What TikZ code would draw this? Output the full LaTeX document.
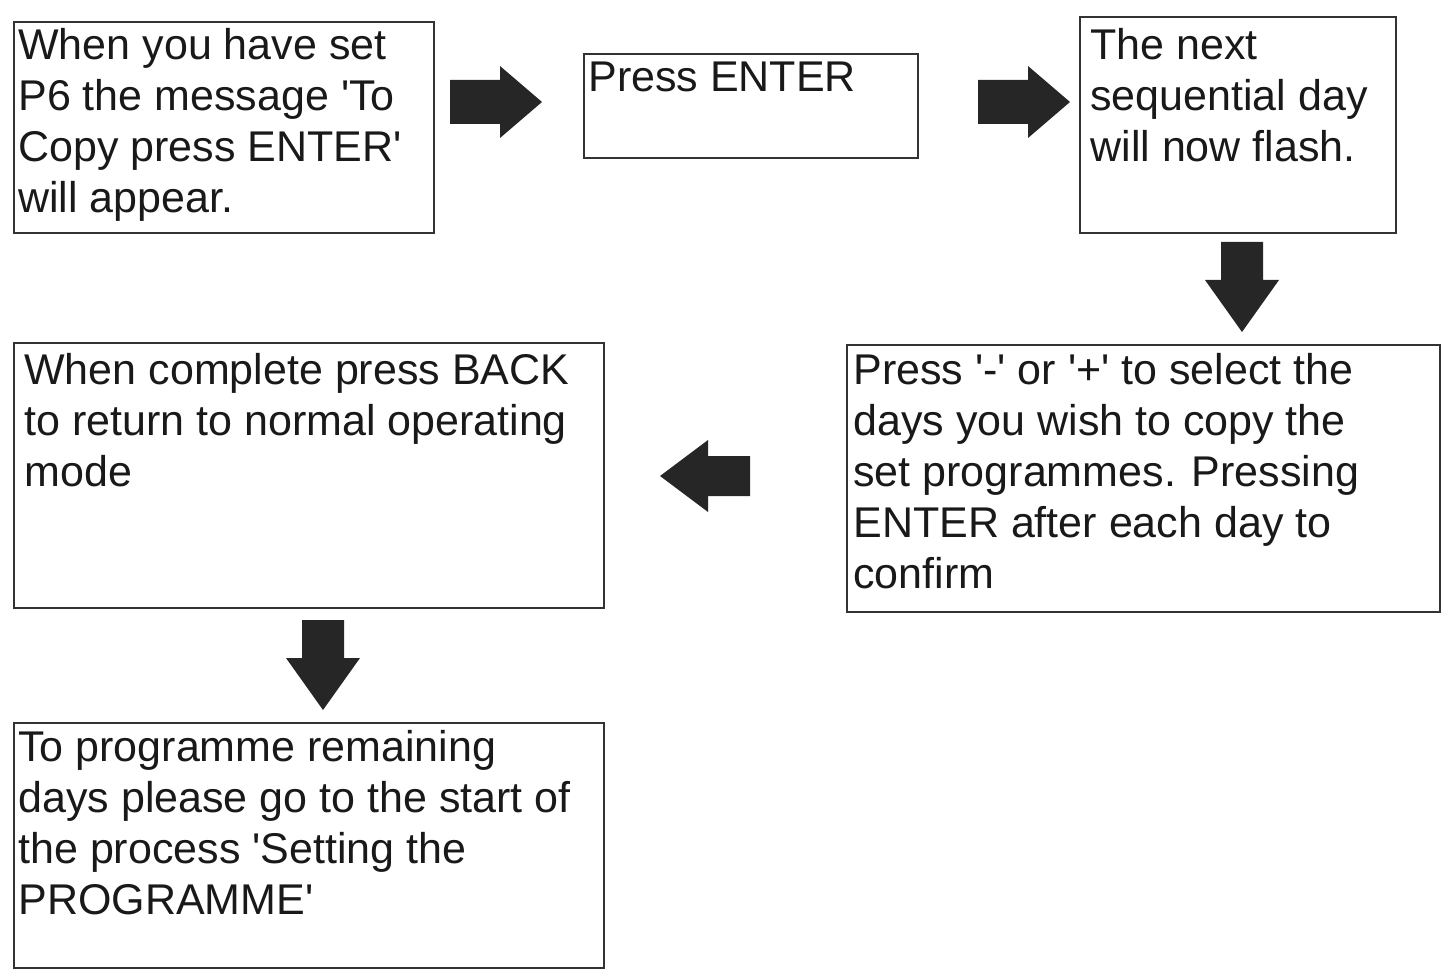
\documentclass[tikz,border=0pt]{standalone}
\usepackage{fontspec}
\setmainfont{Liberation Sans}
\newcommand{\q}{\textquotesingle}
\begin{document}
\begin{tikzpicture}[x=0.5pt,y=-0.5pt,
 box/.style={draw=black!80,line width=1.2pt},
 txt/.style={anchor=north west,inner sep=0pt,align=left,font=\fontsize{21.5}{25.5}\selectfont,text=black!90},
 arr/.style={fill=black!85,draw=none}]
\useasboundingbox (0,0) rectangle (1445,973);
\draw[box] (14,22) rectangle (434,233);
\draw[box] (584,54) rectangle (918,158);
\draw[box] (1080,17) rectangle (1396,233);
\draw[box] (847,345) rectangle (1440,612);
\draw[box] (14,343) rectangle (604,608);
\draw[box] (14,723) rectangle (604,968);
\node[txt] (a) at (18,28) {When you have set\\P6 the message \q To\\Copy press ENTER\q\\will appear.};
\node[txt] (b) at (588,62) {Press ENTER};
\node[txt] (c) at (1090,28) {The next\\sequential day\\will now flash.};
\node[txt] (d) at (853,353) {Press \q-\q\ or \q+\q\ to select the\\days you wish to copy the\\set programmes. Pressing\\ENTER after each day to\\confirm};
\node[txt] (e) at (24,353) {When complete press BACK\\to return to normal operating\\mode};
\node[txt] (f) at (18,730) {To programme remaining\\days please go to the start of\\the process \q Setting the\\PROGRAMME\q};
% right arrows
\foreach \n/\xa in {r1/450,r2/978}{
 \fill[arr] (\xa,80) -- (\xa+50,80) -- (\xa+50,66) -- (\xa+92,102) -- (\xa+50,138) -- (\xa+50,124) -- (\xa,124) -- cycle;
 \coordinate (\n) at (\xa+46,102);}
% down arrows
\foreach \n/\xc/\ya in {d1/1242/242,d2/323/620}{
 \fill[arr] (\xc-21,\ya) -- (\xc+21,\ya) -- (\xc+21,\ya+38) -- (\xc+37,\ya+38) -- (\xc,\ya+90) -- (\xc-37,\ya+38) -- (\xc-21,\ya+38) -- cycle;
 \coordinate (\n) at (\xc,\ya+45);}
% left arrow
\fill[arr] (750,456) -- (708,456) -- (708,440) -- (660,476) -- (708,512) -- (708,496) -- (750,496) -- cycle;
\coordinate (l1) at (705,476);
\end{tikzpicture}
\end{document}
